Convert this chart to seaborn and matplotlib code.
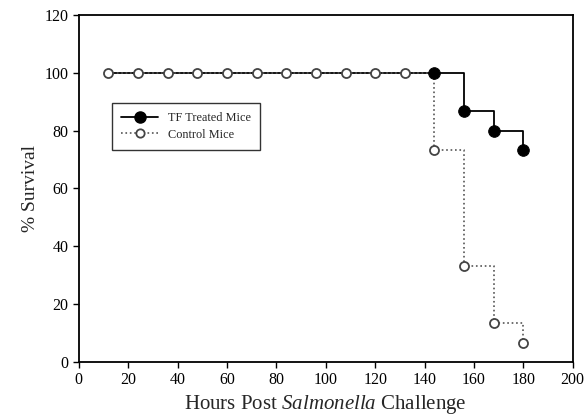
import seaborn as sns
import pandas as pd
import matplotlib.pyplot as plt
from matplotlib.lines import Line2D

hours = [12, 24, 36, 48, 60, 72, 84, 96, 108, 120, 132, 144, 156, 168, 180]
tf_survival = [100, 100, 100, 100, 100, 100, 100, 100, 100, 100, 100, 100, 86.7, 80, 73.3]
ctrl_survival = [100, 100, 100, 100, 100, 100, 100, 100, 100, 100, 100, 73.3, 33.3, 13.3, 6.7]

tf = pd.DataFrame({"hours": hours, "survival": tf_survival})
ctrl = pd.DataFrame({"hours": hours, "survival": ctrl_survival})
# black dots only show where the curves part
tf_dots = tf[tf["hours"] >= 144]

sns.set_style("ticks")
plt.rcParams['font.family'] = ['Liberation Serif', 'DejaVu Serif']
plt.rcParams['mathtext.fontset'] = 'custom'
plt.rcParams['mathtext.rm'] = 'Liberation Serif'
plt.rcParams['mathtext.it'] = 'Liberation Serif:italic'

fig = plt.figure(figsize=(5.88, 4.16), dpi=100)
ax = fig.add_axes([0.134, 0.130, 0.840, 0.834])

sns.lineplot(data=tf, x="hours", y="survival", ax=ax, color="black", lw=1.3,
             drawstyle="steps-post", zorder=3, legend=False)
sns.scatterplot(data=tf_dots, x="hours", y="survival", ax=ax, color="black",
                s=70, edgecolor="black", zorder=5, legend=False)
sns.lineplot(data=ctrl, x="hours", y="survival", ax=ax, color="#555555", lw=1.2,
             linestyle=":", drawstyle="steps-post", marker="o", markersize=6.5,
             markerfacecolor="white", markeredgecolor="#444444",
             markeredgewidth=1.3, zorder=4, legend=False)

ax.set_xlim(0, 200)
ax.set_ylim(0, 120)
ax.set_xticks(range(0, 201, 20))
ax.set_yticks(range(0, 121, 20))
ax.tick_params(direction="out", length=4, width=1, labelsize=11.5, colors="black")
for s in ax.spines.values():
    s.set_linewidth(1.3)
    s.set_color("black")

ax.set_xlabel("Hours Post $\\it{Salmonella}$ Challenge", fontsize=15, labelpad=3)
ax.set_ylabel("% Survival", fontsize=14)

handles = [
    Line2D([], [], color="black", lw=1.3, marker="o", markersize=8),
    Line2D([], [], color="#555555", lw=1.2, linestyle=":", marker="o", markersize=6,
           markerfacecolor="white", markeredgecolor="#444444", markeredgewidth=1.3),
]
leg = ax.legend(handles, ["TF Treated Mice", "Control Mice"], loc="upper left",
                bbox_to_anchor=(0.055, 0.765), fontsize=8.8, frameon=True,
                fancybox=False, edgecolor="black", handlelength=3.0,
                borderpad=0.75, labelspacing=0.4, handletextpad=0.8)
leg.get_frame().set_linewidth(1.0)

plt.savefig("out.png", dpi=100)
